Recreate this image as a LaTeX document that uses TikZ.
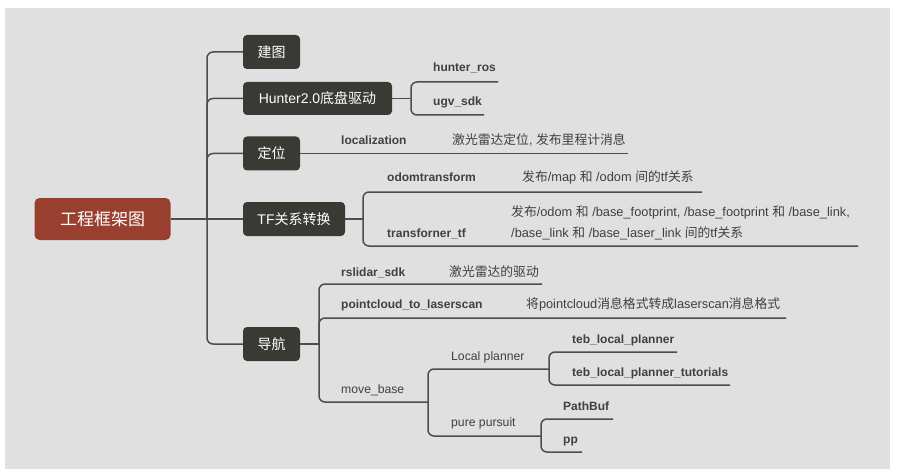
\documentclass[tikz,border=0pt]{standalone}
\usepackage{fontspec}
\setmainfont{Liberation Sans}
\newfontfamily\cjk{Noto Sans CJK SC}
\newcommand\zh[1]{{\cjk #1}}
\definecolor{bgc}{HTML}{E0E0E0}
\definecolor{nodec}{HTML}{3A3A34}
\definecolor{rootc}{HTML}{993F30}
\definecolor{linec}{HTML}{4D4D4D}
\definecolor{textc}{HTML}{404040}
\begin{document}
\begin{tikzpicture}[x=1pt,y=-1pt,
  conn/.style={draw=linec, line width=1.5pt, rounded corners=6pt},
  rootbox/.style={fill=rootc, text=white, rounded corners=5pt, minimum width=136pt, minimum height=42pt, inner sep=0pt, font=\fontsize{17}{20}\selectfont},
  topic/.style={fill=nodec, text=white, rounded corners=4pt, minimum height=34pt, inner sep=0pt, font=\fontsize{14}{16}\selectfont},
  lbl/.style={anchor=base west, text=textc, inner sep=0pt, font=\fontsize{12}{14}\selectfont\bfseries},
  plain/.style={anchor=base west, text=textc, inner sep=0pt, font=\fontsize{12.2}{14}\selectfont},
  desc/.style={anchor=base west, text=textc, inner sep=0pt, font=\fontsize{12.8}{15}\selectfont},
]
\useasboundingbox (0,0) rectangle (897,476);
\fill[white] (0,0) rectangle (897,476);
\fill[bgc] (5,8) rectangle (890,469);

% main nodes
\node[rootbox] (root) at (102.5,219) {\zh{工程框架图}};
\node[topic, minimum width=57pt] (jt) at (271.5,52) {\zh{建图}};
\node[topic, minimum width=149pt, minimum height=33pt] (hunter) at (317.5,98.5) {Hunter2.0\zh{底盘驱动}};
\node[topic, minimum width=57pt] (dw) at (271.5,153.5) {\zh{定位}};
\node[topic, minimum width=102pt] (tf) at (294,219) {TF\zh{关系转换}};
\node[topic, minimum width=57pt] (dh) at (271.5,344) {\zh{导航}};

\coordinate (trunk) at (207,219);
\draw[conn] (root.east) -- (tf.west);
\foreach \n in {jt,hunter,dw,dh} \draw[conn] (trunk) |- (\n.west);

% Hunter children
\coordinate (hb) at (411,98.5);
\node[lbl] (hros) at (433,72) {hunter\_ros};
\node[lbl] (ugv) at (433,106) {ugv\_sdk};
\coordinate (hrosE) at (498,82);
\coordinate (ugvE) at (484,115);
\draw[conn] (hunter.east) -- (hb);
\draw[conn] (hb) |- (hrosE);
\draw[conn] (hb) |- (ugvE);

% localization
\node[lbl] (loc) at (341,145) {localization};
\node[desc] (locd) at (452,145) {\zh{激光雷达定位}, \zh{发布里程计消息}};
\coordinate (locE) at (628,153.5);
\draw[conn] (dw.east) -- (locE);

% TF children
\coordinate (tfb) at (363,219);
\node[lbl] (odom) at (387,182) {odomtransform};
\node[desc] (odomd) at (522,182) {\zh{发布}/map \zh{和} /odom \zh{间的}tf\zh{关系}};
\coordinate (odomE) at (702,192);
\node[lbl] (trf) at (387,237) {transforner\_tf};
\node[desc] (trfd1) at (511,216) {\zh{发布}/odom \zh{和} /base\_footprint, /base\_footprint \zh{和} /base\_link,};
\node[desc] (trfd2) at (511,237) {/base\_link \zh{和} /base\_laser\_link \zh{间的}tf\zh{关系}};
\coordinate (trfE) at (858,246);
\draw[conn] (tf.east) -- (tfb);
\draw[conn] (tfb) |- (odomE);
\draw[conn] (tfb) |- (trfE);

% Navigation children
\coordinate (nb) at (319,344);
\node[lbl] (rs) at (341,276) {rslidar\_sdk};
\node[desc] (rsd) at (449,276) {\zh{激光雷达的驱动}};
\coordinate (rsE) at (542,284);
\node[lbl] (pc) at (341,308) {pointcloud\_to\_laserscan};
\node[desc] (pcd) at (526,308) {\zh{将}pointcloud\zh{消息格式转成}laserscan\zh{消息格式}};
\coordinate (pcE) at (786,318);
\node[plain] (mbl) at (341,393) {move\_base};
\coordinate (mb) at (428,402);
\draw[conn] (dh.east) -- (nb);
\draw[conn] (nb) |- (rsE);
\draw[conn] (nb) |- (pcE);
\draw[conn] (nb) |- (mb);

% move_base children
\node[plain] (lpl) at (451,360) {Local planner};
\coordinate (lpb) at (549,369);
\node[plain] (ppl) at (451,426) {pure pursuit};
\coordinate (ppb) at (541,436);
\draw[conn] (mb) |- (lpb);
\draw[conn] (mb) |- (ppb);

% Local planner children
\node[lbl] (teb) at (572,343) {teb\_local\_planner};
\coordinate (tebE) at (677,352);
\node[lbl] (tebt) at (572,376) {teb\_local\_planner\_tutorials};
\coordinate (tebtE) at (730,385);
\draw[conn] (lpb) |- (tebE);
\draw[conn] (lpb) |- (tebtE);

% pure pursuit children
\node[lbl] (pbuf) at (563,410) {PathBuf};
\coordinate (pbufE) at (613,419);
\node[lbl] (pp) at (563,443) {pp};
\coordinate (ppE) at (582,452);
\draw[conn] (ppb) |- (pbufE);
\draw[conn] (ppb) |- (ppE);
\end{tikzpicture}
\end{document}
